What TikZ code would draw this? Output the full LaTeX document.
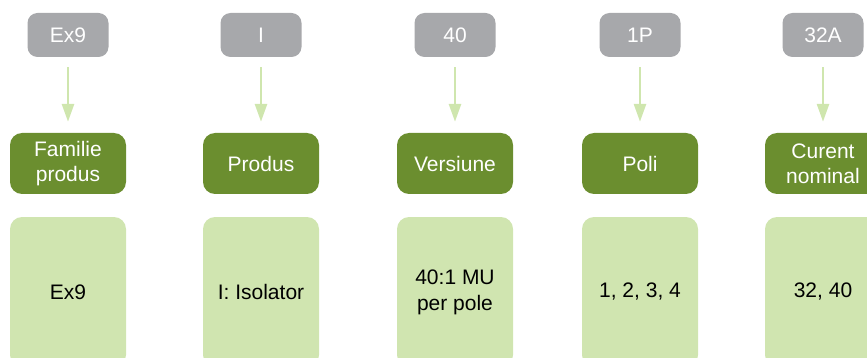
\documentclass[tikz,border=0pt]{standalone}
\usepackage{fontspec}
\setmainfont{Liberation Sans}
\usetikzlibrary{arrows.meta}
\definecolor{codegray}{HTML}{A7A8AB}
\definecolor{catgreen}{HTML}{6B8E2F}
\definecolor{valgreen}{HTML}{D0E5B0}
\definecolor{arrowgreen}{HTML}{CFE6AE}
\tikzset{
  codebox/.style={fill=codegray, text=white, rounded corners=10pt, minimum width=81pt, minimum height=44pt, inner sep=0pt, align=center, font=\fontsize{21}{25}\selectfont},
  catbox/.style={fill=catgreen, text=white, rounded corners=12pt, minimum width=116pt, minimum height=61pt, inner sep=0pt, align=center, font=\fontsize{21}{25}\selectfont},
  valbox/.style={fill=valgreen, text=black, rounded corners=12pt, minimum width=116pt, minimum height=150pt, inner sep=0pt, align=center, font=\fontsize{21}{26}\selectfont},
  flow/.style={draw=arrowgreen, line width=2.8pt, -{Triangle[width=12pt,length=18pt,fill=arrowgreen]}, shorten <=10pt, shorten >=11pt}
}
\begin{document}
\begin{tikzpicture}[x=1pt,y=-1pt]
\useasboundingbox (0,0) rectangle (867,358);
\clip (0,0) rectangle (867,358);
% column 1
\node[codebox] (c1) at (68,35) {Ex9};
\node[catbox] (k1) at (68,163.5) {Familie\\produs};
\node[valbox] (v1) at (68,292) {Ex9};
% column 2
\node[codebox] (c2) at (261,35) {I};
\node[catbox] (k2) at (261,163.5) {Produs};
\node[valbox] (v2) at (261,292) {I: Isolator};
% column 3
\node[codebox] (c3) at (455,35) {40};
\node[catbox] (k3) at (455,163.5) {Versiune};
\node[valbox] (v3) at (455,292) {40:1 MU\\per pole};
% column 4
\node[codebox] (c4) at (640,35) {1P};
\node[catbox] (k4) at (640,163.5) {Poli};
\node[valbox] (v4) at (640,292) {1, 2, 3, 4};
% column 5
\node[codebox] (c5) at (823,35) {32A};
\node[catbox] (k5) at (823,163.5) {Curent\\nominal};
\node[valbox] (v5) at (823,292) {32, 40};
% arrows
\foreach \i in {1,...,5} {
  \draw[flow] (c\i) -- (k\i);
}
\end{tikzpicture}
\end{document}
